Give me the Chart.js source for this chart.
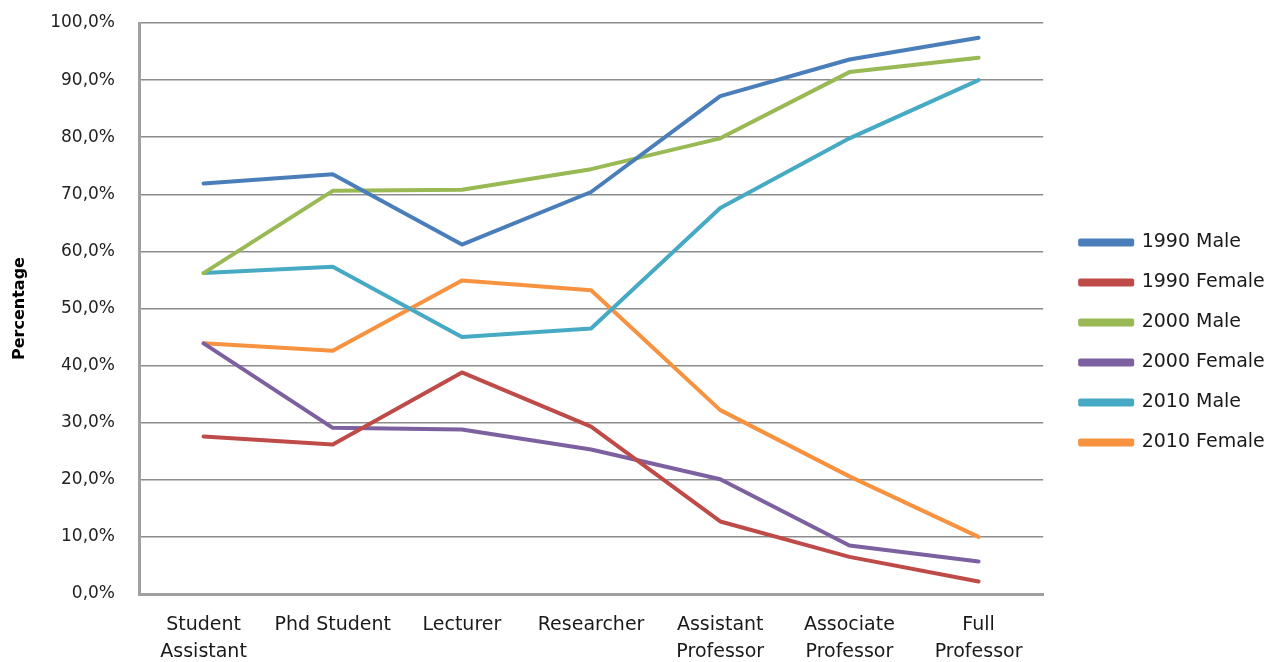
<!DOCTYPE html>
<html>
<head>
<meta charset="utf-8">
<script src="https://cdn.jsdelivr.net/npm/chart.js@4/dist/chart.umd.min.js"></script>
<style>
  html, body { margin: 0; padding: 0; background: #fff; }
  #wrap { width: 1280px; height: 662px; position: relative; }
</style>
</head>
<body>
<div id="wrap"><canvas id="chart"></canvas></div>
<script>
// categories (two-line labels as in the original)
const categories = [
  ['Student', 'Assistant'],
  'Phd Student',
  'Lecturer',
  'Researcher',
  ['Assistant', 'Professor'],
  ['Associate', 'Professor'],
  ['Full', 'Professor']
];

// series values, in percent
const male1990   = [71.9, 73.5, 61.2, 70.4, 87.2, 93.6, 97.4];
const female1990 = [27.6, 26.2, 38.8, 29.3, 12.7, 6.5, 2.2];
const male2000   = [56.2, 70.6, 70.8, 74.4, 79.8, 91.4, 93.9];
const female2000 = [43.9, 29.1, 28.8, 25.3, 20.1, 8.5, 5.7];
const male2010   = [56.2, 57.3, 45.0, 46.5, 67.6, 79.8, 90.0];
const female2010 = [43.9, 42.6, 54.9, 53.2, 32.2, 20.6, 10.0];

const seriesNames = ['1990 Male', '1990 Female', '2000 Male', '2000 Female', '2010 Male', '2010 Female'];
const seriesData = [male1990, female1990, male2000, female2000, male2010, female2010];
const seriesColors = ['#4A7EBB', '#BE4B48', '#98B954', '#7D60A0', '#46AAC5', '#F69240'];

const FONT = 'DejaVu Sans';

const datasets = seriesNames.map((name, i) => ({
  label: name,
  data: seriesData[i],
  borderColor: seriesColors[i],
  backgroundColor: seriesColors[i],
  borderWidth: 4,
  borderJoinStyle: 'round',
  borderCapStyle: 'round',
  pointRadius: 0,
  tension: 0
}));

new Chart(document.getElementById('chart'), {
  type: 'line',
  data: { labels: categories, datasets },
  options: {
    responsive: true,
    maintainAspectRatio: false,
    animation: false,
    layout: { padding: { top: 23, right: 9, bottom: 0, left: 0 } },
    plugins: {
      tooltip: { enabled: false },
      legend: {
        position: 'right',
        labels: {
          boxWidth: 52,
          boxHeight: 4,
          padding: 21,
          color: '#1a1a1a',
          font: { family: FONT, size: 19 }
        }
      }
    },
    scales: {
      x: {
        offset: true,
        grid: { color: 'rgba(0,0,0,0)', drawTicks: false },
        border: { color: '#a0a0a0', width: 3 },
        ticks: {
          color: '#1a1a1a',
          padding: 18,
          maxRotation: 0,
          autoSkip: false,
          font: { family: FONT, size: 19, lineHeight: 1.4 }
        },
        afterFit: s => { s.height = 68; }
      },
      y: {
        min: 0,
        max: 100,
        grid: { color: '#8c8c8c', lineWidth: 1.5, drawTicks: false },
        border: { color: '#a0a0a0', width: 3 },
        ticks: {
          stepSize: 10,
          padding: 24,
          color: '#222',
          font: { family: FONT, size: 17 },
          callback: v => v.toFixed(1).replace('.', ',') + '%'
        },
        title: {
          display: true,
          text: 'Percentage',
          color: '#000',
          padding: { top: 10, bottom: 0 },
          font: { family: FONT, size: 16, weight: 'bold' }
        },
        afterFit: s => {
          s.width = 139;
          s.paddingTop = 0;
          s.paddingBottom = 0;
        }
      },
      yR: {
        position: 'right',
        grid: { display: false },
        border: { display: false },
        ticks: { display: false },
        afterFit: s => { s.width = 16; }
      }
    }
  }
});
</script>
</body>
</html>
